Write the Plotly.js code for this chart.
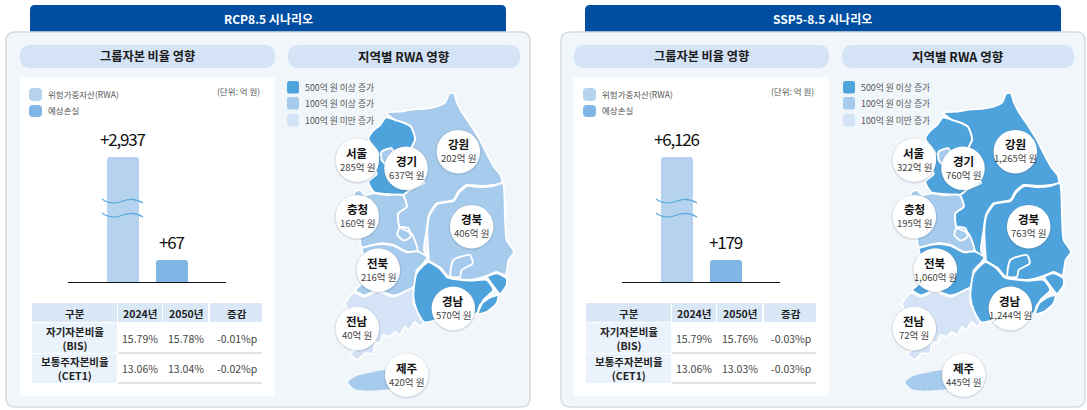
<!DOCTYPE html>
<html><head><meta charset="utf-8">
<script src="https://cdn.plot.ly/plotly-3.0.1.min.js"></script>
<style>html,body{margin:0;padding:0;background:#fff}#c{width:1087px;height:410px}
.annotation-text[data-unformatted^="+"]{letter-spacing:-1.2px}</style></head>
<body><div id="c"></div>
<script>
// ---------- data ----------
const scenarios = ["RCP8.5 시나리오", "SSP5-8.5 시나리오"];
const barNames = ["위험가중자산(RWA)", "예상손실"];
const barsA = [2937, 67];
const barsB = [6126, 179];
const barLabelsA = ["+2,937", "+67"];
const barLabelsB = ["+6,126", "+179"];
const regionNames = ["서울","경기","강원","충청","경북","전북","경남","전남","제주"];
const regionA = [285, 637, 202, 160, 406, 216, 570, 40, 420];
const regionB = [322, 760, 1265, 195, 763, 1060, 1244, 72, 445];
const tableHead = ["구분", "2024년", "2050년", "증감"];
const rowNames = ["자기자본비율<br>(BIS)", "보통주자본비율<br>(CET1)"];
const tableA = [["15.79%","15.78%","-0.01%p"],["13.06%","13.04%","-0.02%p"]];
const tableB = [["15.79%","15.76%","-0.03%p"],["13.06%","13.03%","-0.03%p"]];
const legendBuckets = ["500억 원 이상 증가", "100억 원 이상 증가", "100억 원 미만 증가"];
// region outlines (map units)
const gyeonggi = [[265,236],[280,212],[300,195],[318,172],[345,180],[370,188],[392,200],[403,225],[405,240],[395,262],[402,300],[420,350],[432,368],[395,385],[368,405],[320,402],[283,397],[265,365],[290,342],[280,312],[296,282]];
const seoul = [[305,275],[335,265],[342,290],[322,316],[305,300]];
const gangwon = [[318,158],[360,155],[400,148],[440,146],[470,140],[495,128],[508,100],[522,100],[530,125],[545,155],[572,195],[600,240],[625,290],[645,325],[662,345],[666,368],[640,375],[600,378],[560,375],[535,395],[520,420],[470,430],[447,465],[440,510],[432,570],[442,590],[412,570],[395,522],[358,500],[355,460],[380,440],[368,405],[395,385],[432,368],[420,350],[402,300],[395,262],[405,240],[392,200],[370,188],[345,180]];
const chungcheong = [[283,400],[320,405],[368,405],[380,440],[355,460],[358,500],[395,522],[412,572],[380,575],[340,555],[300,550],[245,562],[240,530],[252,505],[228,475],[215,445],[225,395],[240,390],[255,405]];
const daejeon = [[360,502],[385,505],[392,530],[372,542],[352,525]];
const jeonbuk = [[245,566],[300,552],[340,557],[380,577],[412,574],[442,592],[434,606],[410,632],[402,680],[340,706],[292,690],[252,706],[226,690],[246,670],[252,622],[252,590]];
const jeonnam = [[222,698],[252,710],[292,694],[340,710],[402,684],[400,730],[418,760],[432,784],[420,800],[405,785],[395,800],[385,812],[375,800],[360,826],[345,815],[330,830],[310,825],[300,850],[285,845],[280,880],[255,880],[232,900],[210,880],[240,862],[215,850],[200,832],[210,810],[190,780],[205,760],[195,730]];
const gyeongnamMain = [[445,606],[480,626],[502,652],[570,662],[620,660],[640,690],[612,718],[590,760],[560,770],[500,765],[470,780],[432,786],[410,750],[400,710],[410,640]];
const ulsan = [[622,650],[650,640],[680,656],[680,675],[660,702],[640,678]];
const busan = [[655,706],[650,730],[622,755],[595,762],[600,736],[630,712]];
const gyeongbuk = [[446,592],[442,510],[449,465],[472,432],[522,422],[537,398],[562,378],[600,381],[640,378],[668,370],[675,470],[680,540],[702,575],[686,600],[676,646],[650,636],[620,648],[570,660],[506,650],[482,624],[447,602]];
const daegu = [[520,600],[570,585],[578,610],[545,630],[540,650],[512,650]];
const jeju = [[205,966],[225,950],[260,940],[300,932],[330,930],[350,960],[340,985],[300,990],[260,992],[225,988]];
const regionShapes = {"경기":[gyeonggi],"서울":[seoul],"강원":[gangwon],"충청":[chungcheong,daejeon],"전북":[jeonbuk],"전남":[jeonnam],"경남":[gyeongnamMain,ulsan,busan],"경북":[gyeongbuk,daegu],"제주":[jeju]};
const drawOrder = ["강원","경기","서울","충청","전북","전남","경북","경남","제주"];
const circleX = [232,378,535,232,575,295,520,232,380];
const circleY = [300,325,275,470,500,630,745,805,945];

// ---------- style ----------
const W=1087,H=410;
const DARK="#4fa3dc",MID="#a6cbec",LIGHT="#d4e3f5",BAR1="#b5d3ef",BAR2="#7fb6e5";
const FONT='"Noto Sans CJK KR","Noto Sans",sans-serif';
const bucket=v=>v>=500?DARK:(v>=100?MID:LIGHT);

const shapes=[],ann=[],traces=[];
function rr(x0,y0,x1,y1,r,fill,line,opts){
  const p=`M${x0+r},${y0}L${x1-r},${y0}Q${x1},${y0} ${x1},${y0+r}L${x1},${y1-r}Q${x1},${y1} ${x1-r},${y1}L${x0+r},${y1}Q${x0},${y1} ${x0},${y1-r}L${x0},${y0+r}Q${x0},${y0} ${x0+r},${y0}Z`;
  shapes.push(Object.assign({type:"path",xref:"x",yref:"y",path:p,fillcolor:fill,line:{color:line||fill,width:line?1.5:0},layer:"below"},opts||{}));
}
function tx(x,y,text,size,color,bold,anchor,xref,yref){
  ann.push({x,y,xref:xref||"x",yref:yref||"y",text:bold?`<b>${text}</b>`:text,showarrow:false,
    xanchor:anchor||"center",yanchor:"middle",font:{family:FONT,size,color},align:"center"});
}
// full page axis
traces.push({type:"scatter",x:[0],y:[0],mode:"none",xaxis:"x",yaxis:"y",hoverinfo:"skip"});

function panel(i,dx,mapDx,textDx,bars,labels,regions,table,axB,axM){
  // outer card and header
  rr(30+dx,5,506+dx,40,5,"#004ea2");
  rr(6+dx,32,530+dx,407,9,"#f1f6fb","#d5dbe2");
  tx(268+textDx,18,scenarios[i],12,"#ffffff",true);
  rr(20+textDx,45,275+textDx,68,11,"#d4e3f5");
  rr(288+textDx,45,520+textDx,68,11,"#d4e3f5");
  tx(147+textDx,56,"그룹자본 비율 영향",12.2,"#1a1a1a",true);
  tx(404+textDx,56,"지역별 RWA 영향",12.5,"#1a1a1a",true);
  rr(20+textDx,77,275+textDx,396,2,"#ffffff");
  // bar legend
  rr(29+textDx,88,42+textDx,101,4,BAR1); tx(46+textDx,94,barNames[0],8.5,"#555",false,"left");
  rr(29+textDx,105,42+textDx,117,4,BAR2); tx(46+textDx,110,barNames[1],8.5,"#555",false,"left");
  tx(262+textDx,91,"(단위: 억 원)",8.5,"#555",false,"right");
  // bars
  traces.push({type:"bar",x:barNames,y:bars,marker:{color:[BAR1,BAR2],line:{width:0}},width:0.653,
    xaxis:"x"+axB,yaxis:"y"+axB,hoverinfo:"skip"});
  bars.forEach((v,k)=>ann.push({x:barNames[k],y:Math.log10(v),xref:"x"+axB,yref:"y"+axB,text:labels[k],showarrow:false,
    yanchor:"bottom",yshift:4,font:{family:FONT,size:17,color:"#111"}}));
  // axis break waves
  [199,213].forEach(y=>{
    shapes.push({type:"path",xref:"x",yref:"y",layer:"above",
      path:`M${102+textDx},${y}C${110+textDx},${y+6} ${118+textDx},${y+4} ${123+textDx},${y+2}S${135+textDx},${y-1} ${143+textDx},${y+4}`,
      line:{color:"#5aa9e0",width:1.1}});
  });
  // table
  rr(32+textDx,303,117+textDx,322,0,"#d9e7f6");
  rr(118+textDx,303,162+textDx,322,0,"#d9e7f6");
  rr(163+textDx,303,208+textDx,322,0,"#d9e7f6");
  rr(210+textDx,303,262+textDx,322,0,"#d9e7f6");
  rr(32+textDx,323,117+textDx,353,0,"#eaf2fb");
  rr(32+textDx,354,117+textDx,383,0,"#eaf2fb");
  [353,383].forEach(y=>shapes.push({type:"line",xref:"x",yref:"y",x0:118+textDx,x1:262+textDx,y0:y,y1:y,line:{color:"#c4c8cc",width:1},layer:"below"}));
  const cols=[74.5,140,185.5,237];
  tableHead.forEach((t,k)=>tx(cols[k]+textDx,313,t,10.5,"#222",true));
  [338,368].forEach((y,r)=>{
    tx(cols[0]+textDx,y,rowNames[r],10.5,"#222",true);
    table[r].forEach((v,k)=>tx(cols[k+1]+textDx,y,v,10.5,"#444",false));
  });
  // map legend
  [[81,DARK],[97,MID],[114,LIGHT]].forEach((b,k)=>{
    rr(287+mapDx,b[0],299+mapDx,b[0]+12.5,2.5,b[1]);
    tx(303+mapDx,b[0]+6,legendBuckets[k],8.8,"#555",false,"left");
  });
  // map regions
  drawOrder.forEach(name=>{
    const parts=regionShapes[name];
    const xs=[],ys=[];
    parts.forEach(pts=>{pts.forEach(p=>{xs.push(p[0]);ys.push(p[1]);});xs.push(pts[0][0],null);ys.push(pts[0][1],null);});
    traces.push({type:"scatter",mode:"lines",x:xs,y:ys,fill:"toself",fillcolor:bucket(regions[regionNames.indexOf(name)]),
      line:{color:"#ffffff",width:name==="제주"?0:1.9,shape:"spline",smoothing:0.6},xaxis:"x"+axM,yaxis:"y"+axM,hoverinfo:"skip",name});
  });
  // bubbles
  traces.push({type:"scatter",mode:"markers",x:circleX,y:circleY.map(v=>v+2),marker:{size:46,color:"rgba(90,100,110,0.16)",line:{width:0}},xaxis:"x"+axM,yaxis:"y"+axM,hoverinfo:"skip"});
  traces.push({type:"scatter",mode:"markers",x:circleX,y:circleY,marker:{size:43.5,color:"#ffffff",line:{width:0}},xaxis:"x"+axM,yaxis:"y"+axM,hoverinfo:"skip"});
  regionNames.forEach((n,k)=>{
    ann.push({x:circleX[k],y:circleY[k],xref:"x"+axM,yref:"y"+axM,yshift:7.5,text:`<b>${n}</b>`,showarrow:false,font:{family:FONT,size:11.5,color:"#111"}});
    ann.push({x:circleX[k],y:circleY[k],xref:"x"+axM,yref:"y"+axM,yshift:-6.5,text:regions[k].toLocaleString("en-US")+"억 원",showarrow:false,font:{family:FONT,size:9.5,color:"#444"}});
  });
}
panel(0,0,0,0,barsA,barLabelsA,regionA,tableA,2,4);
panel(1,555,556,554,barsB,barLabelsB,regionB,tableB,3,5);

const off={visible:false,fixedrange:true};
const barX=(x0)=>({domain:[x0/W,(x0+158)/W],range:[-1.122,2.102],fixedrange:true,type:"category",showline:true,linecolor:"#111",linewidth:1,
  ticks:"",showticklabels:false,showgrid:false,zeroline:false});
const barYDom=[(H-282)/H,(H-150)/H];
const layout={
  width:W,height:H,margin:{l:0,r:0,t:0,b:0},paper_bgcolor:"#ffffff",plot_bgcolor:"rgba(0,0,0,0)",showlegend:false,
  font:{family:FONT},barcornerradius:3,shapes,annotations:ann,
  xaxis:Object.assign({range:[0,W],domain:[0,1]},off),
  yaxis:Object.assign({range:[H,0],domain:[0,1]},off),
  xaxis2:Object.assign(barX(68),{anchor:"y2"}),
  yaxis2:Object.assign({type:"log",range:[1.475,3.58],domain:barYDom,anchor:"x2"},off),
  xaxis3:Object.assign(barX(622),{anchor:"y3"}),
  yaxis3:Object.assign({type:"log",range:[1.925,3.891],domain:barYDom,anchor:"x3"},off),
  xaxis4:Object.assign({range:[0,750],domain:[280/W,530/W],anchor:"y4"},off),
  yaxis4:Object.assign({range:[1035,0],domain:[(H-405)/H,(H-60)/H],anchor:"x4"},off),
  xaxis5:Object.assign({range:[0,750],domain:[837/W,1087/W],anchor:"y5"},off),
  yaxis5:Object.assign({range:[1035,0],domain:[(H-405)/H,(H-60)/H],anchor:"x5"},off)
};
Plotly.newPlot("c",traces,layout,{displayModeBar:false,staticPlot:true});
</script></body></html>
